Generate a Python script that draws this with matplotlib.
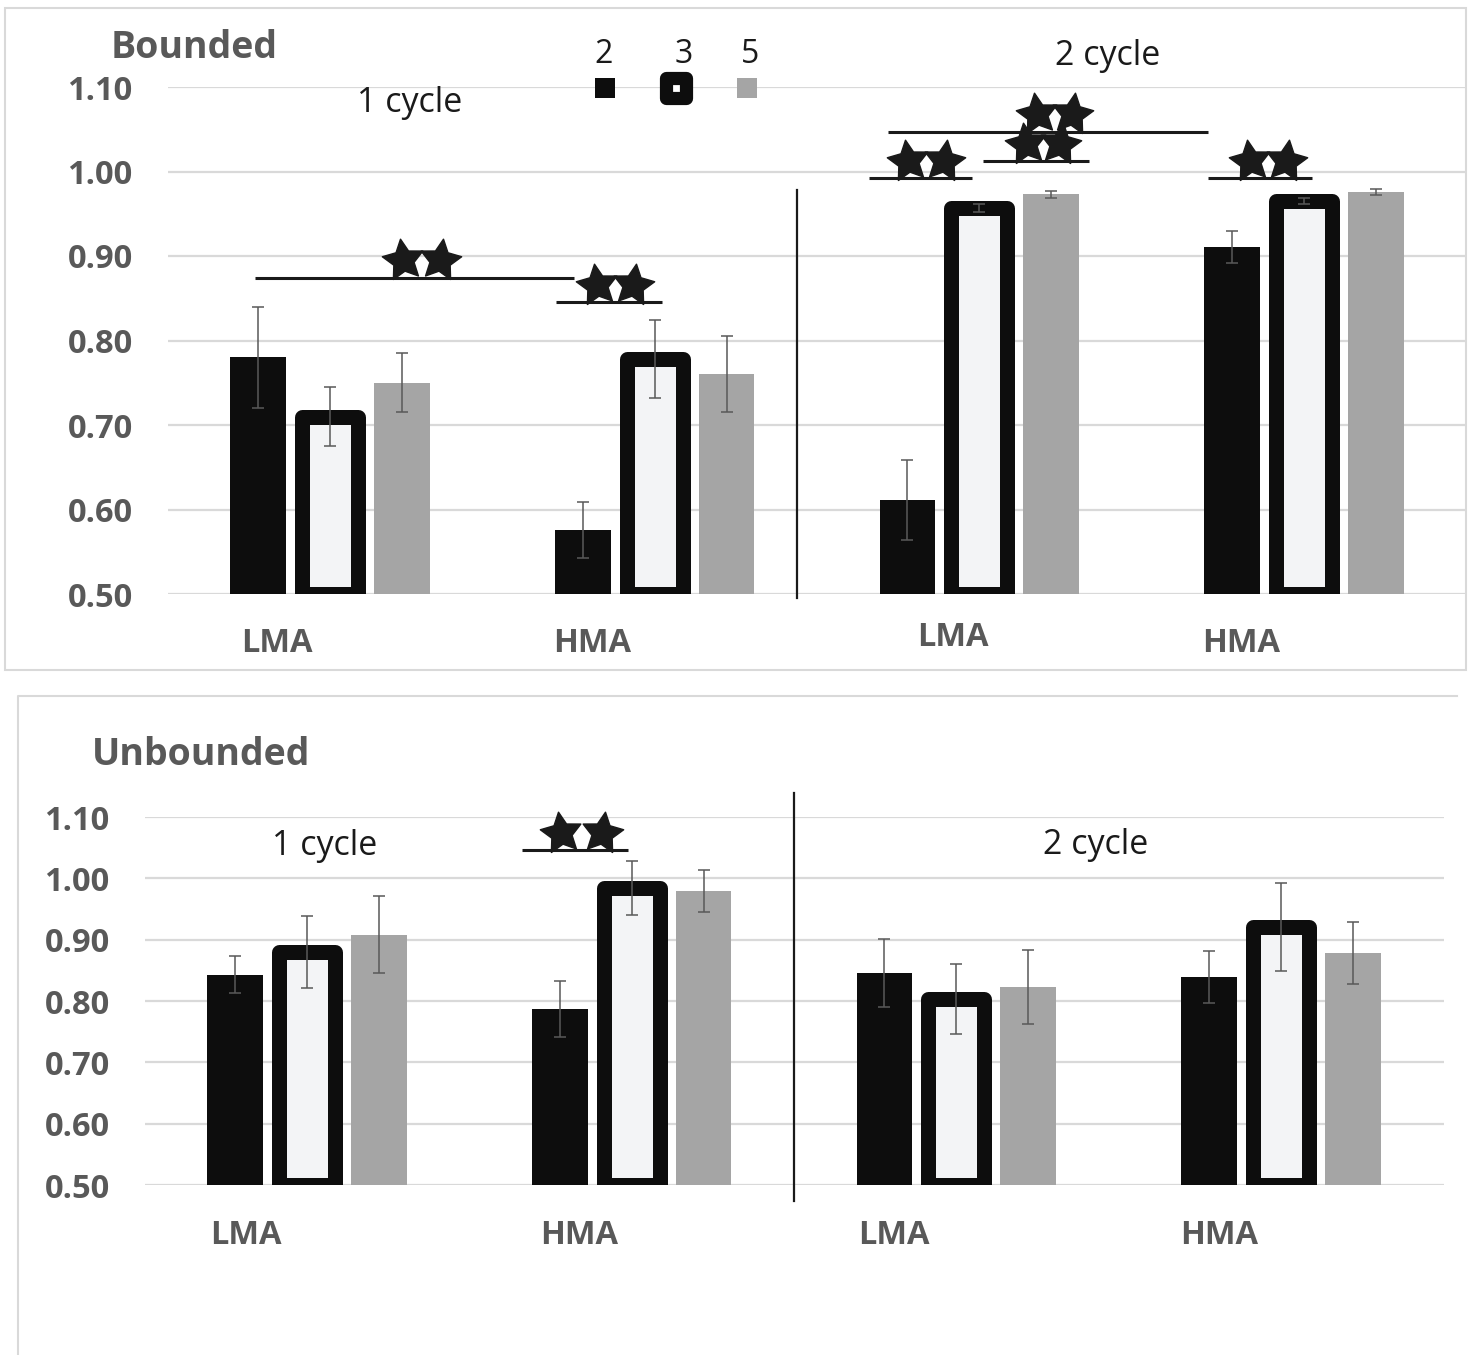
import numpy as np
import matplotlib
matplotlib.use("Agg")
import matplotlib.pyplot as plt
from matplotlib.path import Path
from matplotlib.markers import MarkerStyle
from matplotlib.transforms import Affine2D
from matplotlib.patches import Rectangle
from matplotlib.lines import Line2D

plt.rcParams["font.family"] = ["Open Sans", "DejaVu Sans"]

# ── Data ─────────────────────────────────────────────────────────────────────
groups = ["LMA", "HMA", "LMA", "HMA"]
series = ["2", "3", "5"]
yticks = [0.50, 0.60, 0.70, 0.80, 0.90, 1.00, 1.10]

bounded_2 = [0.780, 0.576, 0.611, 0.911]
bounded_2_err = [0.060, 0.033, 0.047, 0.019]
bounded_3 = [0.710, 0.778, 0.957, 0.965]
bounded_3_err = [0.035, 0.046, 0.005, 0.004]
bounded_5 = [0.750, 0.760, 0.973, 0.976]
bounded_5_err = [0.035, 0.045, 0.004, 0.0035]

unbounded_2 = [0.843, 0.787, 0.846, 0.839]
unbounded_2_err = [0.030, 0.045, 0.055, 0.042]
unbounded_3 = [0.880, 0.985, 0.803, 0.921]
unbounded_3_err = [0.059, 0.044, 0.057, 0.072]
unbounded_5 = [0.908, 0.979, 0.823, 0.878]
unbounded_5_err = [0.063, 0.034, 0.060, 0.050]

# significance brackets: (x start, x end, y) and star pairs (x1, x2, y)
bounded_lines = [(-0.231, 0.751, 0.874), (0.695, 1.022, 0.846),
                 (1.659, 1.978, 0.992), (1.720, 2.705, 1.047),
                 (2.012, 2.338, 1.012), (2.705, 3.025, 0.992)]
bounded_stars = [(0.224, 0.338, 0.895), (0.822, 0.932, 0.866),
                 (1.781, 1.892, 1.012), (2.145, 2.249, 1.033),
                 (2.178, 2.286, 1.068), (2.834, 2.945, 1.012)]
unbounded_lines = [(0.662, 0.988, 1.046)]
unbounded_stars = [(0.782, 0.908, 1.074)]

# ── Style ────────────────────────────────────────────────────────────────────
BLACK = "#0d0d0d"
GREY = "#a5a5a5"
PALE = "#f3f4f6"
TXT = "#595959"
GRID = "#d9d9d9"
ERR = "#595959"
W = 0.172
OFF = 0.2215
EDGE = 10.8

star_path = Path.unit_regular_star(5, innerCircle=0.5)


def star(angle):
    return MarkerStyle(star_path, transform=Affine2D().rotate_deg(angle))


def draw_panel(ax, s2, e2, s3, e3, s5, e5, lines, stars, label_off, label_y):
    x = np.arange(len(groups))
    ax.set_xlim(-0.5, 3.5)
    ax.set_ylim(0.5, 1.1)
    for y in yticks:
        ax.axhline(y, color=GRID, lw=1.6, zorder=0)
    ekw = dict(ecolor=ERR, elinewidth=1.1, capsize=4.5, capthick=1.1)
    ax.bar(x - OFF, np.array(s2) - 0.5, W, bottom=0.5, color=BLACK, zorder=2)
    b3 = ax.bar(x, np.array(s3) - 0.5, W, bottom=0.5, color=PALE,
                edgecolor=BLACK, linewidth=EDGE, zorder=2)
    for p in b3:
        p.set_joinstyle("round")
    ax.bar(x + OFF, np.array(s5) - 0.5, W, bottom=0.5, color=GREY, zorder=2)
    ax.errorbar(x - OFF, s2, yerr=e2, fmt="none", zorder=4, **ekw)
    ax.errorbar(x, s3, yerr=e3, fmt="none", zorder=4, **ekw)
    ax.errorbar(x + OFF, s5, yerr=e5, fmt="none", zorder=4, **ekw)

    for x0, x1, y in lines:
        ax.plot([x0, x1], [y, y], color="#1a1a1a", lw=2.2, zorder=5,
                clip_on=False, solid_capstyle="butt")
    for xa, xb, y in stars:
        ax.plot(xa, y, marker=star(8), ms=31, color="#1a1a1a", lw=0,
                zorder=6, clip_on=False)
        ax.plot(xb, y, marker=star(-8), ms=31, color="#1a1a1a", lw=0,
                zorder=6, clip_on=False)

    for xi, name, dx in zip(x, groups, label_off):
        ax.text(xi + dx, label_y[xi], name, ha="center", va="center",
                fontsize=23.5, fontweight="bold", color=TXT, clip_on=False)

    ax.set_yticks(yticks)
    ax.set_yticklabels([f"{v:.2f}" for v in yticks])
    ax.tick_params(axis="y", length=0, pad=25, labelsize=23.5, labelcolor=TXT)
    for lab in ax.get_yticklabels():
        lab.set_fontweight("bold")
    ax.set_xticks([])
    for s in ax.spines.values():
        s.set_visible(False)
    ax.patch.set_visible(False)


fig = plt.figure(figsize=(14.77, 13.55), dpi=100)
FW, FH = 1477, 1355

# panel frames
fig.patches.append(Rectangle((5 / FW, 1 - 670 / FH), 1461 / FW, 662 / FH,
                             transform=fig.transFigure, fill=False,
                             edgecolor=GRID, lw=1.5))
fig.lines.append(Line2D([18 / FW, 18 / FW, 1457 / FW], [0, 1 - 696 / FH, 1 - 696 / FH],
                        transform=fig.transFigure, color=GRID, lw=1.5))

ax1 = fig.add_axes([167.5 / FW, 1 - 594 / FH, 1299 / FW, 507 / FH])
ax2 = fig.add_axes([144.5 / FW, 1 - 1185 / FH, 1299 / FW, 368 / FH])

draw_panel(ax1, bounded_2, bounded_2_err, bounded_3, bounded_3_err,
           bounded_5, bounded_5_err, bounded_lines, bounded_stars,
           [-0.163, -0.191, -0.083, -0.194], [0.441, 0.441, 0.449, 0.441])
draw_panel(ax2, unbounded_2, unbounded_2_err, unbounded_3, unbounded_3_err,
           unbounded_5, unbounded_5_err, unbounded_lines, unbounded_stars,
           [-0.188, -0.163, -0.191, -0.191], [0.418, 0.418, 0.418, 0.418])

# dividers between cycles
ax1.plot([1.437, 1.437], [0.495, 0.978], color="#1a1a1a", lw=1.6, clip_on=False)
ax2.plot([1.5015, 1.5015], [0.474, 1.139], color="#1a1a1a", lw=1.6, clip_on=False)

# titles and cycle labels
ax1.text(-0.674, 1.146, "Bounded", ha="left", va="center", fontsize=27,
         fontweight="bold", color=TXT, clip_on=False)
ax2.text(-0.662, 1.2015, "Unbounded", ha="left", va="center", fontsize=27,
         fontweight="bold", color=TXT, clip_on=False)
ax1.text(0.246, 1.081, "1 cycle", ha="center", va="center", fontsize=24.5,
         color="#1a1a1a", clip_on=False)
ax1.text(2.394, 1.137, "2 cycle", ha="center", va="center", fontsize=24.5,
         color="#1a1a1a", clip_on=False)
ax2.text(0.055, 1.053, "1 cycle", ha="center", va="center", fontsize=24.5,
         color="#1a1a1a", clip_on=False)
ax2.text(2.428, 1.055, "2 cycle", ha="center", va="center", fontsize=24.5,
         color="#1a1a1a", clip_on=False)

# legend, laid out by hand: numbers above markers
leg_num_x = [0.842, 1.089, 1.295]
leg_mark_x = [0.848, 1.065, 1.285]
for name, tx in zip(series, leg_num_x):
    ax1.text(tx, 1.139, name, ha="center", va="center", fontsize=23,
             color="#1a1a1a", clip_on=False)
ax1.plot(leg_mark_x[0], 1.099, marker="s", ms=15, color=BLACK, mew=0, clip_on=False)
ax1.plot(leg_mark_x[1], 1.099, marker=MarkerStyle("s", joinstyle="round"), ms=14.5,
         mfc="white", mec=BLACK, mew=9.5, clip_on=False)
ax1.plot(leg_mark_x[2], 1.099, marker="s", ms=15, color=GREY, mew=0, clip_on=False)

fig.savefig("out.png", dpi=100)
